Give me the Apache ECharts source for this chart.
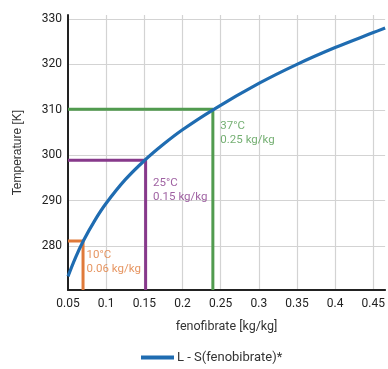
<!DOCTYPE html>
<html>
<head>
<meta charset="utf-8">
<script src="https://cdn.jsdelivr.net/npm/echarts@6/dist/echarts.min.js"></script>
<style>html,body{margin:0;padding:0;background:#fff}#c{width:388px;height:369px}</style>
</head>
<body>
<div id="c"></div>
<script>
// Data
var curveX = [0.05, 0.06, 0.07, 0.085, 0.10, 0.125, 0.15, 0.175, 0.20, 0.24, 0.30, 0.35, 0.40, 0.45, 0.4655];
var curveT = [273.3, 277.5, 281.1, 285.6, 289.4, 294.6, 298.8, 302.4, 305.6, 310.0, 315.8, 320.0, 323.7, 327.0, 328.0];
var curveName = 'L - S(fenobibrate)*';
var markX = [0.0697, 0.1517, 0.2398];
var markT = [281.1, 298.9, 310.1];
var markTemps = ['10°C', '25°C', '37°C'];
var markConc = ['0.06 kg/kg', '0.15 kg/kg', '0.25 kg/kg'];
var xMin = 0.05, xMax = 0.4655, yMin = 270.3, yMax = 330.88;

var markColors = ['#e07a3a', '#87398b', '#519b4f'];
var labelOffsets = [[4, 7], [8, 16], [8, 10]];

var series = [];
series.push({
  name: curveName, type: 'line', smooth: 0.4, showSymbol: false, symbol: 'none',
  data: curveX.map(function (x, i) { return [x, curveT[i]]; }),
  lineStyle: { color: '#1f6cb1', width: 3.2 }, itemStyle: { color: '#1f6cb1' }, z: 5
});
markX.forEach(function (x, i) {
  series.push({
    type: 'line', symbol: 'none', silent: true,
    data: [[xMin, markT[i]], [x, markT[i]], [x, yMin]],
    lineStyle: { color: markColors[i], width: 3 }, z: 3
  });
  series.push({
    type: 'scatter', symbolSize: 1, silent: true,
    itemStyle: { color: 'rgba(0,0,0,0)' },
    data: [[x, markT[i]]],
    label: {
      show: true, position: labelOffsets[i], align: 'left', verticalAlign: 'top',
      color: markColors[i], fontFamily: 'Roboto', fontSize: 11.5, lineHeight: 14.5,
      formatter: markTemps[i] + '\n' + markConc[i]
    }, z: 6
  });
});

var chart = echarts.init(document.getElementById('c'), null, { renderer: 'canvas' });
chart.setOption({
  animation: false,
  grid: { left: 68, right: 0, top: 15, bottom: 79, containLabel: false },
  legend: {
    data: [{ name: curveName, icon: 'rect' }], left: 136, top: 346,
    itemWidth: 33, itemHeight: 4, itemGap: 8,
    textStyle: { fontFamily: 'Roboto', fontSize: 13, color: '#333', padding: [0, 0, 0, -2] }
  },
  xAxis: {
    type: 'value', min: xMin, max: xMax, interval: 0.05,
    name: 'fenofibrate [kg/kg]', nameLocation: 'middle', nameGap: 30,
    nameTextStyle: { fontFamily: 'Roboto', fontSize: 12.5, color: '#333' },
    axisLine: { show: true, onZero: false, lineStyle: { color: '#222', width: 2 } },
    axisTick: { show: false },
    axisLabel: { showMaxLabel: false, margin: 8, fontFamily: 'Roboto', fontSize: 12, color: '#222' },
    splitLine: { show: true, showMinLine: false, showMaxLine: false, lineStyle: { color: '#d3d3d3', width: 1.2 } }
  },
  yAxis: {
    type: 'value', min: yMin, max: yMax,
    name: 'Temperature [K]', nameLocation: 'middle', nameGap: 44,
    nameTextStyle: { fontFamily: 'Liberation Sans', fontSize: 12, color: '#333' },
    axisLine: { show: true, onZero: false, lineStyle: { color: '#222', width: 2 } },
    axisTick: { show: false },
    axisLabel: { showMinLabel: false, showMaxLabel: false, margin: 6, fontFamily: 'Roboto', fontSize: 12, color: '#222' },
    splitLine: { show: true, showMinLine: false, showMaxLine: false, lineStyle: { color: '#d3d3d3', width: 1.2 } }
  },
  series: series
});
</script>
</body>
</html>
